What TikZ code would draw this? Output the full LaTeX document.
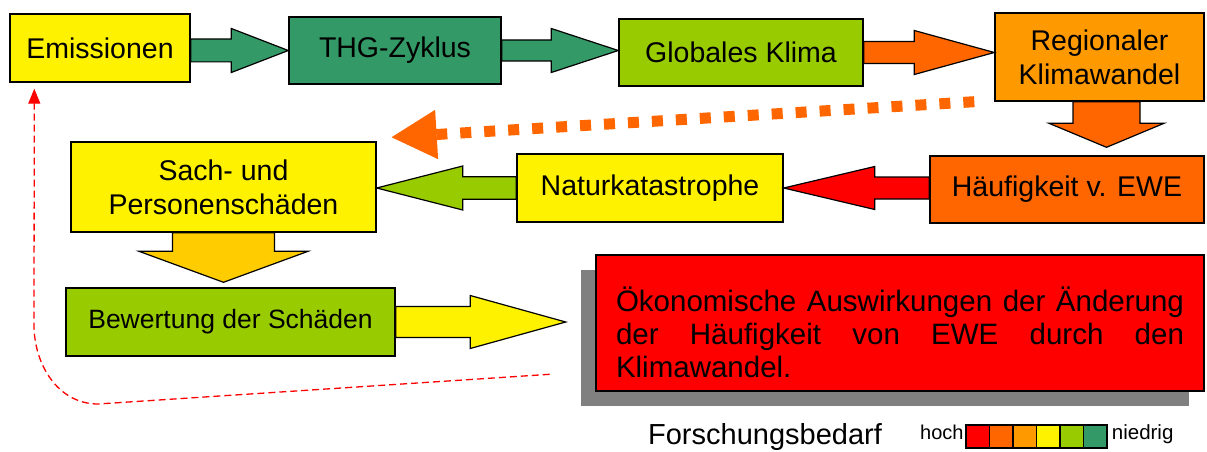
\documentclass[tikz,border=0pt]{standalone}
\usepackage{fontspec}
\setmainfont{Liberation Sans}
\usetikzlibrary{arrows.meta,calc,shadows}
\definecolor{thggreen}{HTML}{339966}
\definecolor{lightgreen}{HTML}{99CC00}
\definecolor{darkorange}{HTML}{FF6600}
\definecolor{lightorange}{HTML}{FF9900}
\definecolor{gold}{HTML}{FFCC00}
\definecolor{shadowgray}{HTML}{808080}
\newcommand{\fatarrow}[6]{%
  \draw[blockline,fill=#3] let \p1=(#1), \p2=(#2),
    \n1={veclen(\x2-\x1,\y2-\y1)}, \n2={atan2(\y2-\y1,\x2-\x1)} in
    [shift={(\p1)},rotate=\n2,x=1pt,y=1pt]
    (0,#4) -- ({\n1-#6},#4) -- ({\n1-#6},#5) -- ({\n1},0)
    -- ({\n1-#6},-#5) -- ({\n1-#6},-#4) -- (0,-#4) -- cycle;}

\begin{document}
\begin{tikzpicture}[x=1pt,y=-1pt,line join=miter,
  box/.style={draw=black,line width=1.4pt,inner sep=0pt,align=center,font=\fontsize{28.5}{34}\selectfont},
  blockline/.style={draw=black,line width=1.2pt},
  legbox/.style={draw=black,line width=1.4pt,minimum width=23.5pt,minimum height=23pt,inner sep=0pt}]
\useasboundingbox (0,0) rectangle (1207,452);

\node[box,fill=yellow,minimum width=180pt,minimum height=68pt] (emi) at (100,48) {Emissionen};
\node[box,fill=thggreen,minimum width=212pt,minimum height=67pt] (thg) at (395,50.5) {THG-Zyklus};
\node[box,fill=lightgreen,minimum width=244pt,minimum height=67pt] (glob) at (741,52.5) {Globales Klima};
\node[box,fill=lightorange,minimum width=209pt,minimum height=88pt] (reg) at (1099.5,57) {Regionaler\\Klimawandel};
\node[box,fill=darkorange,minimum width=274pt,minimum height=67pt] (haeuf) at (1067,189.5) {Häufigkeit v. EWE};
\node[box,fill=yellow,minimum width=266pt,minimum height=68pt] (natur) at (650,188) {Naturkatastrophe};
\node[box,fill=yellow,minimum width=305pt,minimum height=90pt] (sach) at (223.5,187) {Sach- und\\Personenschäden};
\node[box,fill=lightgreen,minimum width=329pt,minimum height=68pt,font=\fontsize{26.5}{30}\selectfont] (bew) at (230.5,322) {Bewertung der Schäden};
\node[box,fill=red,line width=2.6pt,minimum width=608pt,minimum height=136pt,text width=568pt,align=justify,
  font=\fontsize{29.5}{33}\selectfont,
  drop shadow={shadow xshift=-15pt,shadow yshift=-15pt,fill=shadowgray,opacity=1}] (oeko) at (900,323)
  {\rule{0pt}{44pt}Ökonomische Auswirkungen der Änderung\linebreak der Häufigkeit von EWE durch den\linebreak Klimawandel.};

\fatarrow{emi.east |- thg.west}{thg.west}{thggreen}{11.4}{22}{57}
\fatarrow{thg.east}{glob.west |- thg.east}{thggreen}{10.5}{22}{67}
\fatarrow{glob.east}{reg.west |- glob.east}{darkorange}{11}{22}{80}
\fatarrow{$(reg.south)+(7,0)$}{$(reg.south |- haeuf.north)+(7,-8)$}{darkorange}{33.5}{57.5}{24}
\fatarrow{haeuf.west |- natur.east}{natur.east}{red}{11}{21.5}{91}
\fatarrow{natur.west}{sach.east |- natur.west}{lightgreen}{11.3}{22}{86}
\fatarrow{sach.south}{$(sach.south |- bew.north)+(0,-5)$}{gold}{51}{84.5}{31}
\fatarrow{bew.east}{$(oeko.west |- bew.east)+(-29,0)$}{yellow}{15.5}{26.5}{95.5}

\draw[darkorange,line width=11pt,dash pattern=on 11pt off 13pt,-{Triangle[length=46pt,width=46pt]}]
  ($(reg.south west)+(-20,0)$) -- ($(sach.north east)+(14,-4)$);

\coordinate (fbstart) at ($(oeko.south west)+(-45,-18)$);
\draw[red,line width=1.3pt,dash pattern=on 7pt off 4pt,-{Triangle[length=15pt,width=12pt]}]
  (fbstart) -- (98,404) to[out=180,in=-90] (34,325) -- ($(emi.south west)+(25,6)$);

\node[font=\fontsize{29}{32}\selectfont] (forsch) at (765,437) {Forschungsbedarf};
\foreach \c [count=\i] in {red,darkorange,lightorange,yellow,lightgreen,thggreen}
  \node[legbox,fill=\c] (leg\i) at ({954.25+23.5*\i},436.5) {};
\node[anchor=mid east,inner sep=1.5pt,font=\fontsize{20}{24}\selectfont] (hoch) at (leg1.west) {hoch};
\node[anchor=mid west,inner sep=4pt,font=\fontsize{20.5}{24}\selectfont] (niedrig) at (leg6.east) {niedrig};
\end{tikzpicture}
\end{document}
